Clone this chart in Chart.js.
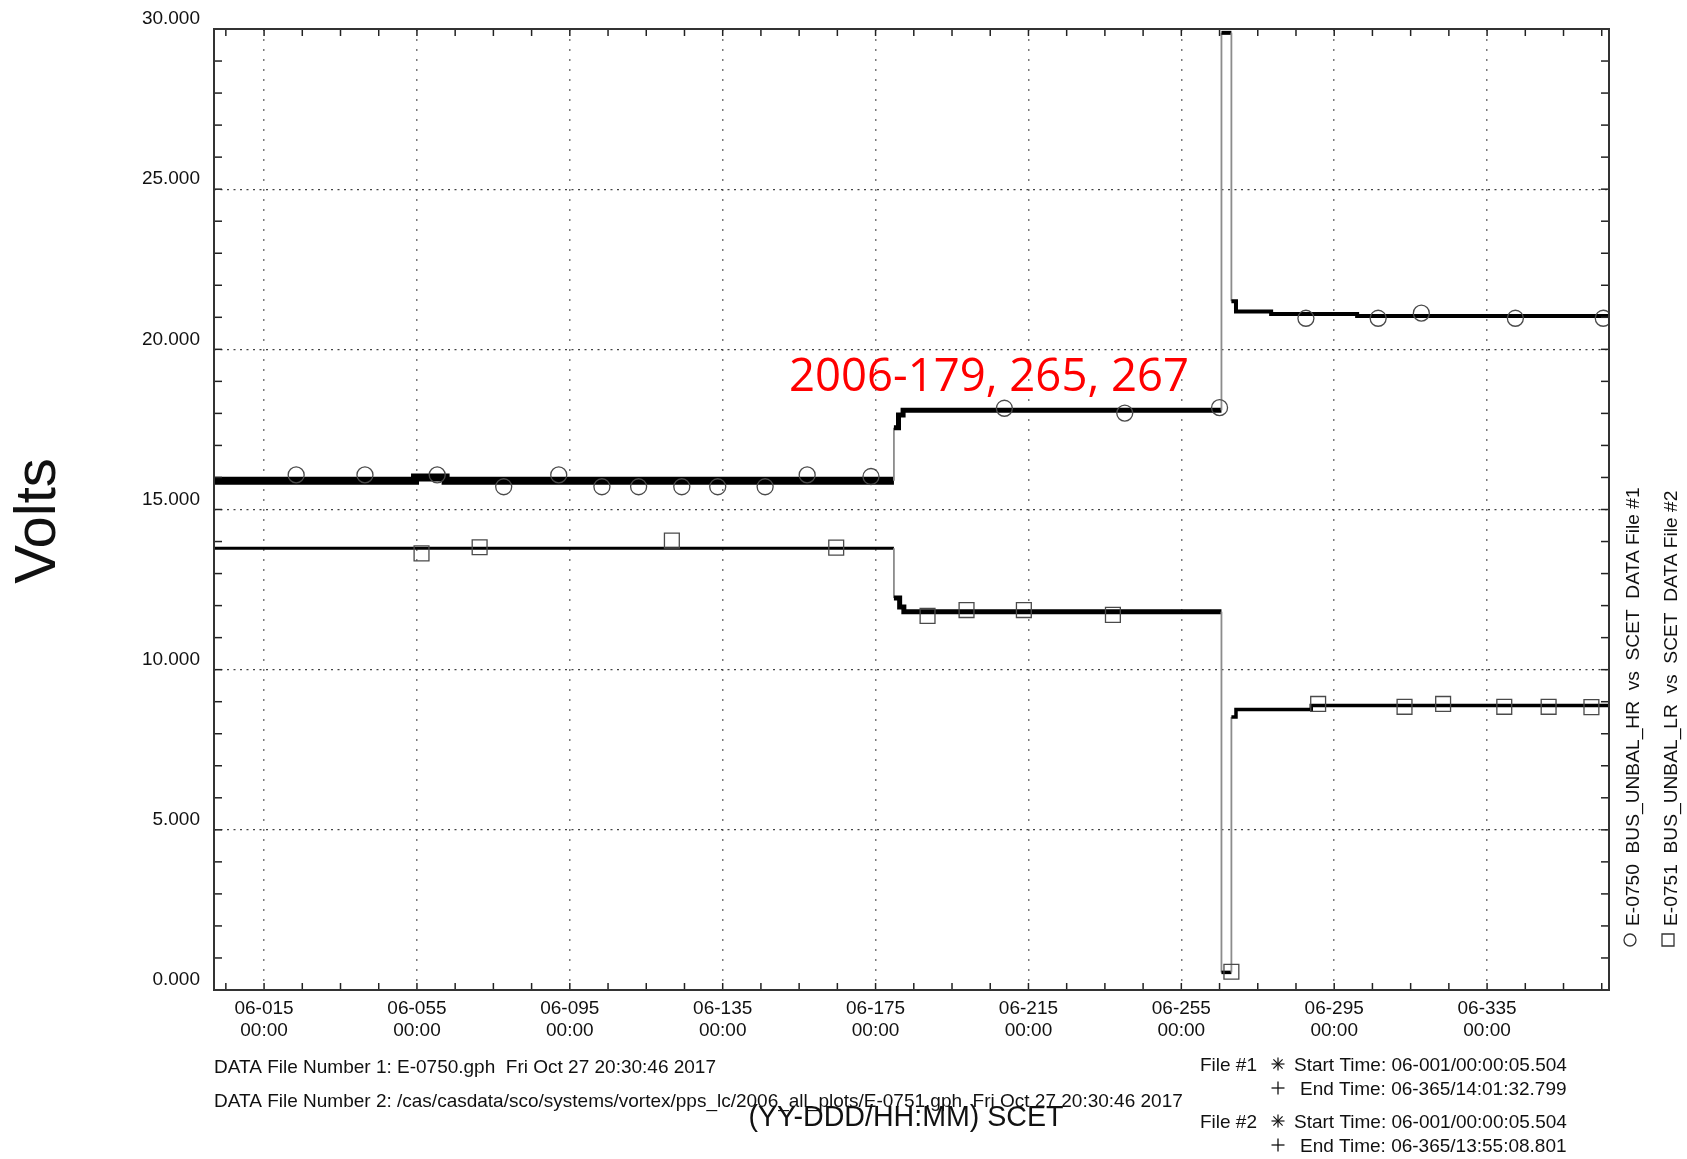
<!DOCTYPE html>
<html>
<head>
<meta charset="utf-8">
<script src="https://cdn.jsdelivr.net/npm/chart.js@4.4.1/dist/chart.umd.min.js"></script>
<style>
  html, body { margin: 0; padding: 0; background: #fff; }
  canvas { display: block; }
</style>
</head>
<body>
<canvas id="chart" width="1687" height="1159"></canvas>
<script>
// Axis ticks (day of year 2006, volts)
const xTickDays = [15, 55, 95, 135, 175, 215, 255, 295, 335];
const xTickLabels = ['06-015', '06-055', '06-095', '06-135', '06-175', '06-215', '06-255', '06-295', '06-335'];
const xTickTime = '00:00';
const yTickValues = [0, 5, 10, 15, 20, 25, 30];
const yTickLabels = ['0.000', '5.000', '10.000', '15.000', '20.000', '25.000', '30.000'];

// E-0750 BUS_UNBAL_HR (File #1) trace, [day, volts]
const hrTrace = [
    [1.4, 15.9], [54.5, 15.9], [54.5, 16.0], [62.5, 16.0], [62.5, 15.9],
    [179.8, 15.9], [179.8, 17.55], [181.0, 17.55], [181.0, 17.95], [182.2, 17.95], [182.2, 18.1],
    [265.5, 18.1], [265.5, 29.88], [268.1, 29.88], [268.1, 21.5], [269.3, 21.5], [269.3, 21.18],
    [278.5, 21.18], [278.5, 21.1], [301, 21.1], [301, 21.04], [366.9, 21.04]
];
// circle markers on the HR trace
const hrMarkers = [
    [23.4, 16.08], [41.4, 16.08], [60.3, 16.08], [77.7, 15.71], [92.1, 16.08], [103.4, 15.71],
    [113.0, 15.71], [124.3, 15.71], [133.7, 15.71], [146.1, 15.71], [157.1, 16.08], [173.8, 16.03],
    [208.7, 18.16], [240.2, 18.01], [265.0, 18.18],
    [287.6, 20.97], [306.5, 20.97], [317.8, 21.13], [342.4, 20.97], [365.4, 20.97]
];

// E-0751 BUS_UNBAL_LR (File #2) trace, [day, volts]
const lrTrace = [
    [1.4, 13.79], [179.8, 13.79], [179.8, 12.24], [181.3, 12.24], [181.3, 11.96], [182.4, 11.96], [182.4, 11.81],
    [265.5, 11.81], [265.5, 0.55], [268.1, 0.55], [268.1, 8.52], [269.3, 8.52], [269.3, 8.76],
    [289, 8.76], [289, 8.88], [366.9, 8.88]
];
// square markers on the LR trace
const lrMarkers = [
    [56.2, 13.63], [71.4, 13.82], [121.7, 14.03], [164.7, 13.81],
    [188.6, 11.68], [198.8, 11.86], [213.8, 11.86], [237.1, 11.71],
    [268.1, 0.57],
    [290.8, 8.93], [313.4, 8.84], [323.5, 8.93], [339.5, 8.84], [351.1, 8.84], [362.3, 8.83]
];

const FONT = "'Liberation Sans', Arial, Helvetica, sans-serif";
const INK = '#111';

const toXY = arr => arr.map(p => ({ x: p[0], y: p[1] }));

// line weight of the dense (noisy) flat stretches
function traceWidth(series, day) {
    if (series === 'hr') return day < 179.8 ? 8 : (day < 265 ? 5 : 4);
    return day < 179.8 ? 3 : (day < 265 ? 5 : 3.5);
}

// long jumps are thin grey, small wiggles stay in the dense black band
function isJump(c) {
    return c.p0.parsed.x === c.p1.parsed.x && Math.abs(c.p0.parsed.y - c.p1.parsed.y) > 0.5;
}

function traceDataset(label, data, series) {
    return {
        label,
        data: toXY(data),
        order: 2,
        borderColor: '#000',
        borderWidth: 3,
        pointRadius: 0,
        tension: 0,
        borderCapStyle: 'butt',
        borderJoinStyle: 'miter',
        segment: {
            borderColor: c => isJump(c) ? '#8c8c8c' : '#000',
            borderWidth: c => isJump(c) ? 1.8 : traceWidth(series, c.p0.parsed.x)
        }
    };
}

function markerDataset(label, data, style, radius) {
    return {
        label,
        data: toXY(data),
        order: 1,
        showLine: false,
        pointStyle: style,
        pointRadius: radius,
        pointBorderColor: '#4a4a4a',
        pointBorderWidth: 1.3,
        pointBackgroundColor: 'rgba(0,0,0,0)'
    };
}

function txt(ctx, s, x, y, size, align, family, color) {
    ctx.font = size + 'px ' + (family || FONT);
    ctx.fillStyle = color || INK;
    ctx.textAlign = align || 'left';
    ctx.textBaseline = 'alphabetic';
    ctx.fillText(s, x, y);
}

function seg(ctx, x1, y1, x2, y2) {
    ctx.beginPath();
    ctx.moveTo(x1, y1);
    ctx.lineTo(x2, y2);
    ctx.stroke();
}

function asterisk(ctx, cx, cy, r) {
    ctx.lineWidth = 1.2;
    for (let k = 0; k < 4; k++) {
        const a = k * Math.PI / 4;
        seg(ctx, cx - r * Math.cos(a), cy - r * Math.sin(a), cx + r * Math.cos(a), cy + r * Math.sin(a));
    }
}

function plus(ctx, cx, cy, r) {
    ctx.lineWidth = 1.3;
    seg(ctx, cx - r, cy, cx + r, cy);
    seg(ctx, cx, cy - r, cx, cy + r);
}

const overlay = {
    id: 'overlay',
    afterDraw(chart) {
        const { ctx, chartArea: a, scales: { x, y } } = chart;
        ctx.save();

        // inward ticks every 10 days and every 1 V
        ctx.strokeStyle = '#222';
        ctx.lineWidth = 1.5;
        for (let d = 5; d <= 365; d += 10) {
            const px = x.getPixelForValue(d);
            seg(ctx, px, a.bottom, px, a.bottom - 7);
            seg(ctx, px, a.top, px, a.top + 7);
        }
        for (let v = 1; v < 30; v++) {
            const py = y.getPixelForValue(v);
            seg(ctx, a.left, py, a.left + 8, py);
            seg(ctx, a.right, py, a.right - 8, py);
        }

        // frame
        ctx.strokeStyle = '#333';
        ctx.lineWidth = 2;
        ctx.strokeRect(a.left, a.top, a.right - a.left, a.bottom - a.top);

        // y title
        ctx.save();
        ctx.translate(55, 521);
        ctx.rotate(-Math.PI / 2);
        txt(ctx, 'Volts', 0, 0, 58, 'center');
        ctx.restore();

        // red annotation
        txt(ctx, '2006-179, 265, 267', 789, 391, 45.5, 'left', "'Open Sans', sans-serif", '#ff0000');

        // right legend, rotated
        const legend = [
            { bx: 1639, mx: 1630, shape: 'circle', text: 'E-0750  BUS_UNBAL_HR  vs  SCET  DATA File #1' },
            { bx: 1677, mx: 1668, shape: 'square', text: 'E-0751  BUS_UNBAL_LR  vs  SCET  DATA File #2' }
        ];
        legend.forEach(l => {
            ctx.strokeStyle = '#333';
            ctx.lineWidth = 1.3;
            ctx.beginPath();
            if (l.shape === 'circle') ctx.arc(l.mx, 940, 6, 0, Math.PI * 2);
            else ctx.rect(l.mx - 6, 934, 12, 12);
            ctx.stroke();
            ctx.save();
            ctx.translate(l.bx, 926);
            ctx.rotate(-Math.PI / 2);
            txt(ctx, l.text, 0, 0, 19.2, 'left');
            ctx.restore();
        });

        // footer
        txt(ctx, 'DATA File Number 1: E-0750.gph  Fri Oct 27 20:30:46 2017', 214, 1073, 19);
        txt(ctx, 'DATA File Number 2: /cas/casdata/sco/systems/vortex/pps_lc/2006_all_plots/E-0751.gph  Fri Oct 27 20:30:46 2017', 214, 1107, 19);
        txt(ctx, '(YY-DDD/HH:MM) SCET', 906, 1126, 28.6, 'center');

        const files = [
            { y: 1064, name: 'File #1', start: 'Start Time: 06-001/00:00:05.504', end: 'End Time: 06-365/14:01:32.799' },
            { y: 1121, name: 'File #2', start: 'Start Time: 06-001/00:00:05.504', end: 'End Time: 06-365/13:55:08.801' }
        ];
        files.forEach(f => {
            txt(ctx, f.name, 1257, f.y + 7, 19, 'right');
            ctx.strokeStyle = INK;
            asterisk(ctx, 1278, f.y, 6.5);
            txt(ctx, f.start, 1294, f.y + 7, 19);
            plus(ctx, 1278, f.y + 24, 6.5);
            txt(ctx, f.end, 1300, f.y + 31, 19);
        });

        ctx.restore();
    }
};

new Chart(document.getElementById('chart'), {
    type: 'line',
    data: {
        datasets: [
            markerDataset('E-0750 markers', hrMarkers, 'circle', 8),
            markerDataset('E-0751 markers', lrMarkers, 'rect', 10.5),
            traceDataset('E-0750 BUS_UNBAL_HR', hrTrace, 'hr'),
            traceDataset('E-0751 BUS_UNBAL_LR', lrTrace, 'lr')
        ]
    },
    options: {
        responsive: false,
        animation: false,
        layout: { padding: { top: 29, right: 78, left: 0, bottom: 0 } },
        plugins: {
            legend: { display: false },
            tooltip: { enabled: false }
        },
        scales: {
            x: {
                type: 'linear',
                min: 1.9,
                max: 366.9,
                afterBuildTicks: s => { s.ticks = xTickDays.map(v => ({ value: v })); },
                afterFit: s => { s.height = 169; },
                ticks: {
                    autoSkip: false,
                    maxRotation: 0,
                    padding: 8,
                    color: INK,
                    font: { family: FONT, size: 19, lineHeight: 1.16 },
                    callback: (v, i) => [xTickLabels[i], xTickTime]
                },
                grid: { color: '#7a7a7a', lineWidth: 1.5, drawTicks: false },
                border: { display: false, dash: [2, 8] }
            },
            y: {
                type: 'linear',
                min: 0,
                max: 30,
                afterBuildTicks: s => { s.ticks = yTickValues.map(v => ({ value: v })); },
                afterFit: s => { s.width = 214; },
                ticks: {
                    padding: 14,
                    labelOffset: -10,
                    color: INK,
                    font: { family: FONT, size: 19 },
                    callback: (v, i) => yTickLabels[i]
                },
                grid: { color: '#444', lineWidth: 1.3, drawTicks: false },
                border: { display: false, dash: [2, 4.5] }
            }
        }
    },
    plugins: [overlay]
});
</script>
</body>
</html>
